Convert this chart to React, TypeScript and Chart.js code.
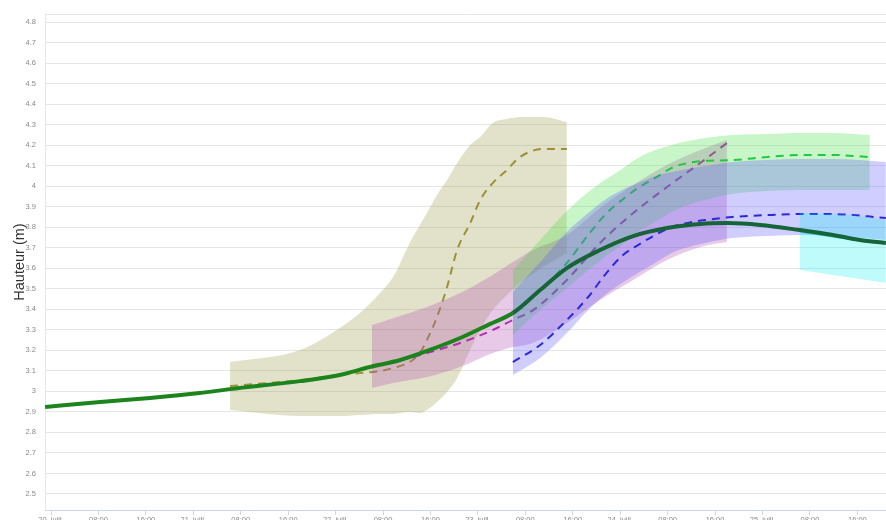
import React, { useEffect, useRef } from 'react';
import { Chart, registerables } from 'chart.js';

Chart.register(...registerables);

// x = hours since 20 juill. 00:00
const X_MIN = -1.012;
const X_MAX = 140.83;
const Y_MIN = 2.422;
const Y_MAX = 4.839;

const dayLabels = ['20. juill.', '21. juill.', '22. juill.', '23. juill.', '24. juill.', '25. juill.'];

// Observed water level
const obsHours = [-1.0, 8.3, 16.7, 25.1, 30.2, 42.0, 48.7, 53.8, 58.9, 63.9, 69.0, 74.0, 77.9, 82.5, 87.0, 92.6, 98.2, 103.9, 109.5, 114.0, 119.6, 126.3, 131.9, 136.4, 140.8];
const obsLevels = [2.924, 2.948, 2.968, 2.992, 3.011, 3.050, 3.080, 3.119, 3.153, 3.202, 3.260, 3.328, 3.382, 3.494, 3.601, 3.689, 3.757, 3.796, 3.816, 3.820, 3.811, 3.786, 3.762, 3.738, 3.723];

// Forecast 1 (olive)
const oliveHours = [30.2, 42.0, 48.7, 52.1, 55.5, 57.7, 60.5, 62.2, 63.4, 65.1, 66.8, 68.5, 70.7, 72.4, 74.5, 76.9, 79.1, 83.0, 87.0];
const oliveHigh = [3.143, 3.202, 3.309, 3.382, 3.479, 3.557, 3.723, 3.811, 3.869, 3.957, 4.030, 4.113, 4.201, 4.240, 4.308, 4.327, 4.337, 4.337, 4.313];
const oliveLow = [2.909, 2.880, 2.880, 2.885, 2.890, 2.890, 2.899, 2.895, 2.909, 2.948, 2.997, 3.065, 3.202, 3.299, 3.396, 3.470, 3.528, 3.606, 3.674];
const oliveMid = [3.026, 3.055, 3.080, 3.089, 3.099, 3.114, 3.143, 3.187, 3.250, 3.362, 3.509, 3.689, 3.820, 3.933, 4.015, 4.079, 4.142, 4.181, 4.181];

// Forecast 2 (magenta)
const pinkHours = [54.1, 57.7, 63.4, 69.0, 74.5, 77.9, 81.3, 87.0, 92.6, 98.2, 103.9, 109.5, 114.0];
const pinkHigh = [3.323, 3.357, 3.411, 3.479, 3.567, 3.630, 3.689, 3.762, 3.894, 4.006, 4.103, 4.176, 4.225];
const pinkLow = [3.016, 3.041, 3.070, 3.119, 3.187, 3.216, 3.236, 3.333, 3.445, 3.543, 3.640, 3.704, 3.728];
const pinkMid = [3.128, 3.143, 3.187, 3.236, 3.299, 3.348, 3.396, 3.543, 3.723, 3.869, 3.996, 4.113, 4.210];

// Forecast 3 (green)
const greenHours = [77.9, 82.5, 87.0, 90.6, 93.4, 96.3, 99.0, 101.9, 104.7, 107.4, 110.3, 114.9, 120.8, 126.3, 131.9, 138.1];
const greenMid = [3.382, 3.494, 3.626, 3.762, 3.859, 3.933, 3.991, 4.040, 4.089, 4.113, 4.123, 4.127, 4.142, 4.152, 4.152, 4.142];
const greenHigh = [3.591, 3.738, 3.879, 3.972, 4.030, 4.084, 4.137, 4.176, 4.201, 4.220, 4.235, 4.249, 4.254, 4.259, 4.259, 4.249];
const greenLow = [3.275, 3.396, 3.504, 3.591, 3.655, 3.713, 3.777, 3.825, 3.874, 3.908, 3.933, 3.962, 3.976, 3.981, 3.981, 3.981];

// Forecast 4 (blue)
const blueHours = [77.9, 82.5, 87.0, 90.6, 93.4, 96.3, 99.0, 101.9, 104.7, 108.1, 110.3, 114.9, 120.8, 126.3, 131.9, 140.8];
const blueMid = [3.143, 3.226, 3.348, 3.460, 3.567, 3.660, 3.713, 3.762, 3.801, 3.825, 3.835, 3.850, 3.859, 3.864, 3.864, 3.845];
const blueHigh = [3.484, 3.630, 3.777, 3.869, 3.933, 3.981, 4.015, 4.050, 4.069, 4.089, 4.098, 4.118, 4.127, 4.132, 4.132, 4.118];
const blueLow = [3.080, 3.163, 3.284, 3.396, 3.470, 3.528, 3.577, 3.626, 3.674, 3.708, 3.723, 3.747, 3.757, 3.762, 3.757, 3.738];

// Forecast 5 (cyan)
const cyanHours = [126.3, 131.9, 136.4, 140.8];
const cyanHigh = [3.869, 3.864, 3.855, 3.835];
const cyanLow = [3.591, 3.567, 3.548, 3.528];
const cyanMid = [3.781, 3.757, 3.738, 3.723];

const FONT = "'Liberation Sans', Arial, sans-serif";

const pts = (xs: number[], ys: number[]) => xs.map((x, i) => ({ x, y: ys[i] }));

function band(label: string, xs: number[], lo: number[], hi: number[], fillColor: string, order: number) {
  const common = {
    borderWidth: 0,
    borderColor: 'rgba(0,0,0,0)',
    pointRadius: 0,
    cubicInterpolationMode: 'monotone' as const,
    order,
  };
  return [
    { ...common, label: label + ' min', data: pts(xs, lo), fill: false },
    { ...common, label: label + ' max', data: pts(xs, hi), fill: '-1', backgroundColor: fillColor },
  ];
}

function median(label: string, xs: number[], ys: number[], color: string, order: number) {
  return {
    label,
    data: pts(xs, ys),
    borderColor: color,
    borderWidth: 2,
    borderDash: [8, 6],
    pointRadius: 0,
    fill: false,
    cubicInterpolationMode: 'monotone' as const,
    order,
  };
}

const fmtX = (v: number) => {
  const h = Math.round(v);
  if (h % 24 === 0) return dayLabels[h / 24] ?? '';
  return String(h % 24).padStart(2, '0') + ':00';
};

const topLine = {
  id: 'topLine',
  beforeDatasetsDraw(chart: any) {
    const { ctx, chartArea: a } = chart;
    ctx.save();
    ctx.strokeStyle = '#e6e6e6';
    ctx.lineWidth = 1;
    ctx.beginPath();
    ctx.moveTo(a.left, a.top + 0.5);
    ctx.lineTo(a.right, a.top + 0.5);
    ctx.stroke();
    ctx.restore();
  },
};

export default function App() {
  const ref = useRef<HTMLCanvasElement | null>(null);

  useEffect(() => {
    if (!ref.current) return;
    const datasets: any[] = [
      {
        label: 'Observé',
        data: pts(obsHours, obsLevels),
        borderWidth: 4,
        borderColor: 'rgb(28,132,28)',
        segment: {
          borderColor: (c: any) => (c.p0.parsed.x >= 77.9 ? 'rgb(22,100,55)' : 'rgb(28,132,28)'),
        },
        pointRadius: 0,
        fill: false,
        cubicInterpolationMode: 'monotone',
        order: 0,
      },
      ...band('Prévision 1', oliveHours, oliveLow, oliveHigh, 'rgba(160,160,80,0.3)', 20),
      median('Prévision 1', oliveHours, oliveMid, '#9a9238', 19),
      ...band('Prévision 2', pinkHours, pinkLow, pinkHigh, 'rgba(180,80,180,0.3)', 18),
      median('Prévision 2', pinkHours, pinkMid, '#b030b0', 17),
      ...band('Prévision 3', greenHours, greenLow, greenHigh, 'rgba(40,220,40,0.25)', 16),
      median('Prévision 3', greenHours, greenMid, '#22c844', 15),
      ...band('Prévision 4', blueHours, blueLow, blueHigh, 'rgba(100,90,255,0.3)', 14),
      median('Prévision 4', blueHours, blueMid, '#2a2ad8', 13),
      ...band('Prévision 5', cyanHours, cyanLow, cyanHigh, 'rgba(0,240,240,0.25)', 12),
      { ...median('Prévision 5', cyanHours, cyanMid, '#30d4d4', 11), borderDash: [], borderWidth: 3 },
    ];

    const chart = new Chart(ref.current, {
      type: 'line',
      data: { datasets },
      plugins: [topLine],
      options: {
        responsive: false,
        animation: false,
        devicePixelRatio: 1,
        layout: { padding: { top: 14, left: 0, right: 0, bottom: 0 } },
        plugins: {
          legend: { display: false },
          tooltip: { enabled: false },
        },
        scales: {
          x: {
            type: 'linear',
            min: X_MIN,
            max: X_MAX,
            afterFit: (s: any) => {
              s.height = 10;
              s.paddingLeft = 0;
              s.paddingRight = 0;
            },
            ticks: {
              stepSize: 8,
              includeBounds: false,
              maxTicksLimit: 100,
              autoSkip: false,
              maxRotation: 0,
              minRotation: 0,
              padding: 0,
              color: '#8a8a8a',
              font: { family: FONT, size: 7.5 },
              callback: (v: any) => fmtX(Number(v)),
            },
            grid: { drawOnChartArea: false, drawTicks: true, tickLength: 5, color: '#ccd6eb' },
            border: { color: '#ccd6eb' },
          },
          y: {
            type: 'linear',
            min: Y_MIN,
            max: Y_MAX,
            afterFit: (s: any) => {
              s.width = 45;
              s.paddingTop = 0;
              s.paddingBottom = 0;
            },
            ticks: {
              stepSize: 0.1,
              includeBounds: false,
              maxTicksLimit: 100,
              padding: 9,
              color: '#8a8a8a',
              font: { family: FONT, size: 7.5 },
              callback: (v: any) => String(Math.round(Number(v) * 10) / 10),
            },
            grid: { color: '#e6e6e6', drawTicks: false },
            border: { color: '#e6e6e6' },
            title: {
              display: true,
              text: 'Hauteur (m)',
              color: '#333333',
              font: { family: FONT, size: 14.5 },
              padding: { top: 11, bottom: 0 },
            },
          },
        },
      } as any,
    });
    return () => chart.destroy();
  }, []);

  return (
    <div style={{ position: 'fixed', left: 0, top: 0, width: 886, height: 520, background: '#ffffff' }}>
      <canvas ref={ref} width={886} height={520} style={{ display: 'block' }} />
    </div>
  );
}
